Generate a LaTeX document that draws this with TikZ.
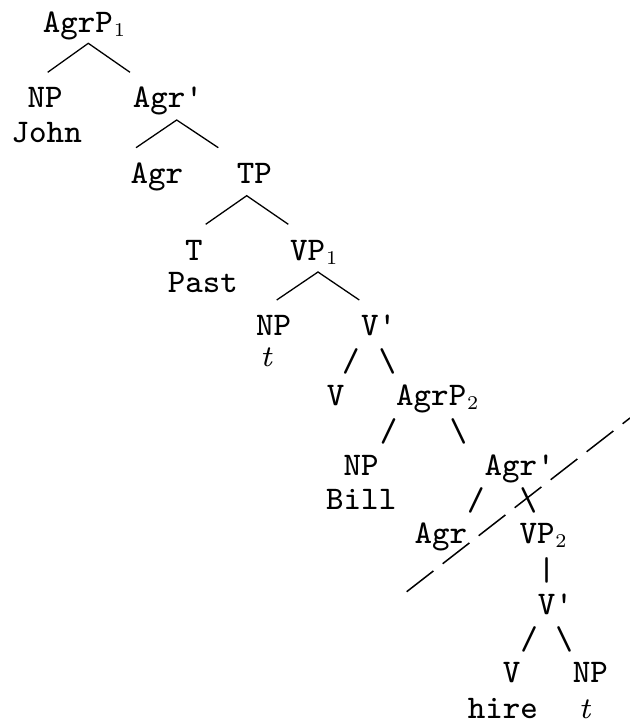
\RequirePackage{fix-cm}
\documentclass[tikz,border=0pt]{standalone}
\usepackage{fontspec}
\newfontfamily\treefont{lmmono8-regular.otf}
\newfontfamily\subfont{lmroman7-regular.otf}
\newfontfamily\tracefont{lmroman7-italic.otf}
\newcommand\lsub[1]{\kern0.8pt\raisebox{-4.6pt}{\fontsize{19.5}{19.5}\selectfont\subfont #1}}
\begin{document}
\begin{tikzpicture}[x=1pt,y=-1pt,
  lbl/.style={anchor=base west,inner sep=0pt,font=\fontsize{33}{40}\selectfont\treefont},
  bar/.style={anchor=center,inner sep=0pt,font=\fontsize{33}{40}\selectfont\treefont},
  trace/.style={anchor=base,inner sep=0pt,font=\fontsize{30}{36}\selectfont\tracefont},
  edge/.style={line width=1.3pt},
  cut/.style={line width=1.5pt,dash pattern=on 33.8pt off 11.8pt}]
\useasboundingbox (0,0) rectangle (630,724);
% upper part with drawn branches
\node[lbl] (agrp1) at (42.7,32.3) {AgrP\lsub{1}};
\node[lbl] (np1) at (27.3,107.3) {NP};
\node[lbl] (john) at (11.5,142) {John};
\node[lbl] (agrbar1) at (132.7,107.3) {Agr\textquotesingle};
\node[lbl] (agr1) at (130.5,183.3) {Agr};
\node[lbl] (tp) at (236.7,183.3) {TP};
\node[lbl] (t) at (185,260) {T};
\node[lbl] (past) at (167.7,292.5) {Past};
\node[lbl] (vp1) at (290,260) {VP\lsub{1}};
\node[lbl] (np2) at (256,335) {NP};
\node[trace] (tr1) at (266,366.5) {t};
\node[lbl] (vbar1) at (361,335) {V\textquotesingle};
% lower part with typed branches
\node[bar] (s1) at (351,361) {/};
\node[bar] (b1) at (387.5,361) {\textbackslash};
\node[lbl] (v1) at (326.7,405) {V};
\node[lbl] (agrp2) at (396,405) {AgrP\lsub{2}};
\node[bar] (s2) at (388.7,431.7) {/};
\node[bar] (b2) at (458.3,431.7) {\textbackslash};
\node[lbl] (np3) at (343.3,475) {NP};
\node[lbl] (bill) at (326,509.3) {Bill};
\node[lbl] (agrbar2) at (484.3,475) {Agr\textquotesingle};
\node[bar] (s3) at (475.8,500.8) {/};
\node[bar] (b3) at (528.3,500.8) {\textbackslash};
\node[lbl] (agr2) at (414.3,543.3) {Agr};
\node[lbl] (vp2) at (519.3,543.3) {VP\lsub{2}};
\node[bar] (p1) at (546.7,570.8) {\textbar};
\node[lbl] (vbar2) at (537.7,614) {V\textquotesingle};
\node[bar] (s4) at (529.2,639.2) {/};
\node[bar] (b4) at (564.2,639.2) {\textbackslash};
\node[lbl] (v2) at (502.7,682.7) {V};
\node[lbl] (np4) at (572.7,682.7) {NP};
\node[lbl] (hire) at (467.7,718.3) {hire};
\node[trace] (tr2) at (584.7,718) {t};
% branch points
\coordinate (a1) at (88.3,43.3);
\coordinate (a1l) at (47.7,72.3);
\coordinate (a1r) at (130,72.3);
\coordinate (a2) at (176.7,120);
\coordinate (a2l) at (136,147.7);
\coordinate (a2r) at (218.3,147.7);
\coordinate (a3) at (246.7,195.7);
\coordinate (a3l) at (205.7,224.3);
\coordinate (a3r) at (288.3,224.3);
\coordinate (a4) at (318,272);
\coordinate (a4l) at (276.7,300);
\coordinate (a4r) at (359.3,300);
\draw[edge] (a1l) -- (a1) -- (a1r);
\draw[edge] (a2l) -- (a2) -- (a2r);
\draw[edge] (a3l) -- (a3) -- (a3r);
\draw[edge] (a4l) -- (a4) -- (a4r);
% dashed cut
\coordinate (c1) at (406.7,591.7);
\coordinate (c2) at (630,418);
\draw[cut] (c1) -- (c2);
\end{tikzpicture}
\end{document}
